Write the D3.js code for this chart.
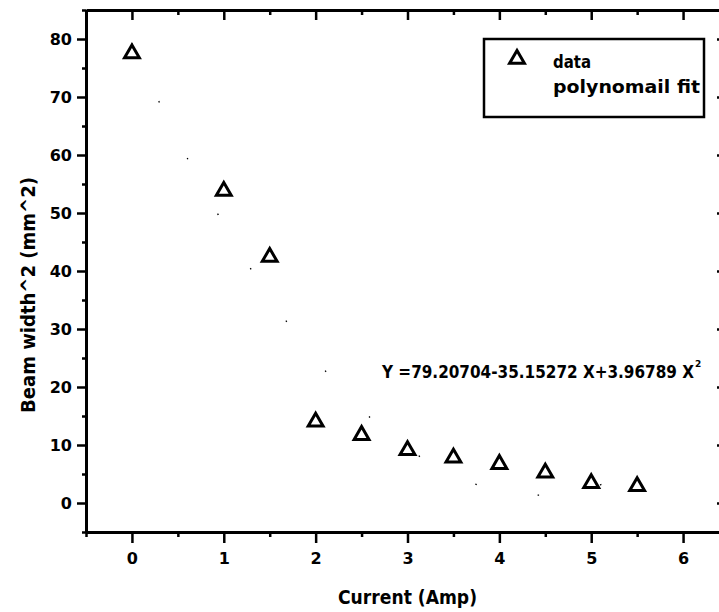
<!DOCTYPE html>
<html><head><meta charset="utf-8">
<script src="https://cdn.jsdelivr.net/npm/d3@7"></script>
<style>body{margin:0;background:#fff}svg{display:block}text{font-family:"DejaVu Sans","Liberation Sans",Arial,sans-serif;font-weight:bold;fill:#000}</style>
</head><body><div id="chart"></div>
<script>
const currents = [0, 1, 1.5, 2, 2.5, 3, 3.5, 4, 4.5, 5, 5.5];
const beamWidthSq = [77.5, 53.8, 42.4, 14.0, 11.7, 9.1, 7.8, 6.7, 5.2, 3.4, 2.9];
const fitCoef = [79.20704, -35.15272, 3.96789];
const xTicks = [0, 1, 2, 3, 4, 5, 6];
const yTicks = [0, 10, 20, 30, 40, 50, 60, 70, 80];
const xMinor = [-0.5, 0.5, 1.5, 2.5, 3.5, 4.5, 5.5];
const yMinor = [-5, 5, 15, 25, 35, 45, 55, 65, 75, 85];
const legendLabels = ["data", "polynomail fit"];
const equationText = "Y =79.20704-35.15272 X+3.96789 X";

(function(){
const W = 719, H = 612;
const FONT = "DejaVu Sans, Liberation Sans, Arial, sans-serif";
const svg = d3.select("#chart").append("svg").attr("width", W).attr("height", H);
const x = d3.scaleLinear().domain([-0.5, 6.5]).range([86, 729]);
const y = d3.scaleLinear().domain([-5, 85]).range([532, 10]);

// fit curve (sparse dotted, as in the faded scan)
const fitPts = d3.range(0, 5.51, 0.02).map(v => [v, fitCoef[0] + fitCoef[1]*v + fitCoef[2]*v*v]);
svg.append("path").datum(fitPts)
  .attr("d", d3.line().x(d => x(d[0])).y(d => y(d[1])))
  .attr("fill", "none").attr("stroke", "#000").attr("stroke-width", 1.3)
  .attr("stroke-dasharray", "1.5,62");

// axes
const axB = d3.axisBottom(x).tickValues(xTicks).tickFormat(d3.format("d")).tickSize(11).tickSizeOuter(0);
const axL = d3.axisLeft(y).tickValues(yTicks).tickFormat(d3.format("d")).tickSize(9).tickSizeOuter(0);
const axT = d3.axisTop(x).tickValues(xTicks).tickFormat("").tickSize(-10).tickSizeOuter(0);

const gb = svg.append("g").attr("transform", `translate(0,${y(-5)})`).call(axB);
const gl = svg.append("g").attr("transform", `translate(${x(-0.5)},0)`).call(axL);
svg.append("g").attr("transform", `translate(0,${y(85)})`).call(axT);
// minor ticks
svg.append("g").attr("transform", `translate(0,${y(-5)})`)
  .call(d3.axisBottom(x).tickValues(xMinor).tickFormat("").tickSize(5).tickSizeOuter(0)).select(".domain").remove();
svg.append("g").attr("transform", `translate(${x(-0.5)},0)`)
  .call(d3.axisLeft(y).tickValues(yMinor).tickFormat("").tickSize(4).tickSizeOuter(0)).select(".domain").remove();
svg.append("g").attr("transform", `translate(0,${y(85)})`)
  .call(d3.axisTop(x).tickValues(xMinor).tickFormat("").tickSize(-5).tickSizeOuter(0)).select(".domain").remove();
// right axis (mostly off-screen)
svg.append("g").attr("transform", `translate(${x(6.5)},0)`)
  .call(d3.axisRight(y).tickValues(yTicks).tickFormat("").tickSize(-12).tickSizeOuter(0));

svg.selectAll(".domain").attr("stroke", "#000").attr("stroke-width", 3);
svg.selectAll(".tick line").attr("stroke", "#000").attr("stroke-width", 2.5);
gb.selectAll(".tick text").attr("font-size", 16).attr("dy", 0).attr("y", 32)
  .style("font-family", FONT).style("font-weight", "bold");
gl.selectAll(".tick text").attr("font-size", 16).attr("x", -14)
  .style("font-family", FONT).style("font-weight", "bold");
svg.selectAll(".tick text").attr("fill", "#000");

// data markers: hollow triangles
const tri = d3.symbol().type(d3.symbolTriangle).size(95);
svg.append("g").selectAll("path").data(currents.map((c, i) => [c, beamWidthSq[i]]))
  .join("path")
  .attr("transform", d => `translate(${x(d[0])},${y(d[1])})`)
  .attr("d", tri).attr("fill", "#fff").attr("stroke", "#000").attr("stroke-width", 3);

// axis titles
svg.append("text").attr("x", 338).attr("y", 604).attr("font-size", 20)
  .attr("textLength", 139).attr("lengthAdjust", "spacingAndGlyphs").text("Current (Amp)");
svg.append("text").attr("transform", "translate(35,413) rotate(-90)").attr("font-size", 19)
  .attr("textLength", 236).attr("lengthAdjust", "spacingAndGlyphs").text("Beam width^2 (mm^2)");

// legend
svg.append("rect").attr("x", 484).attr("y", 39).attr("width", 220).attr("height", 78)
  .attr("fill", "none").attr("stroke", "#000").attr("stroke-width", 2.5);
svg.append("path").attr("transform", "translate(517,59)").attr("d", tri)
  .attr("fill", "#fff").attr("stroke", "#000").attr("stroke-width", 3);
svg.append("text").attr("x", 553).attr("y", 68).attr("font-size", 18)
  .attr("textLength", 38).attr("lengthAdjust", "spacingAndGlyphs").text(legendLabels[0]);
svg.append("text").attr("x", 553).attr("y", 93).attr("font-size", 18)
  .attr("textLength", 147).attr("lengthAdjust", "spacingAndGlyphs").text(legendLabels[1]);

// equation (condensed, vertically stretched)
svg.append("g").attr("transform", "translate(382,378) scale(1,1.3)")
  .append("text").attr("x", 0).attr("y", 0).attr("font-size", 14)
  .attr("textLength", 312).attr("lengthAdjust", "spacingAndGlyphs").text(equationText);
svg.append("text").attr("x", 695).attr("y", 367).attr("font-size", 9).text("2");
})();
</script></body></html>
